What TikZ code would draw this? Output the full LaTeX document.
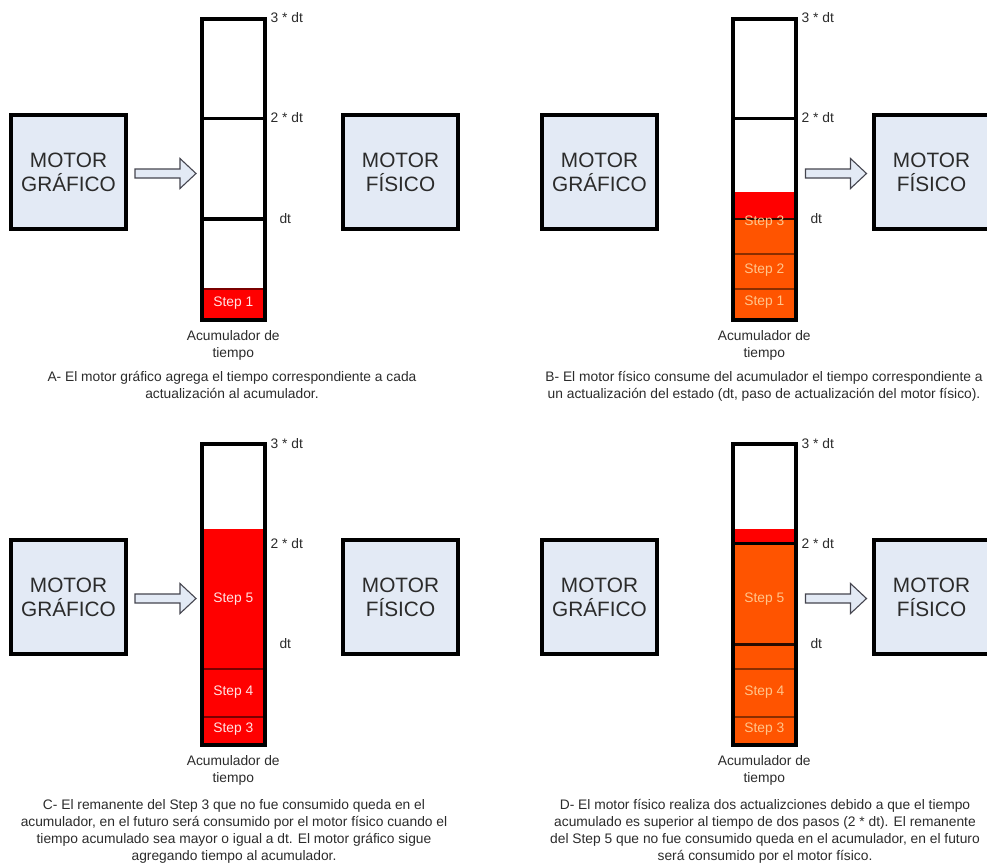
\documentclass[tikz,border=0pt]{standalone}
\usepackage{fontspec}
\setmainfont{Liberation Sans}
\usetikzlibrary{calc}
\definecolor{boxfill}{HTML}{E3EAF5}
\definecolor{txt}{HTML}{2B2B2B}
\definecolor{stepred}{HTML}{FF0000}
\definecolor{steporange}{HTML}{FF5400}
\definecolor{orangetext}{HTML}{FFC58C}
\definecolor{redtext}{HTML}{FFE4E4}
\definecolor{reddiv}{HTML}{7A0000}
\definecolor{orangediv}{HTML}{8A2E00}
\definecolor{darkline}{HTML}{2A0C00}
\definecolor{arrowline}{HTML}{45454F}
\newcommand{\mlines}[1]{\begin{tabular}[t]{@{}c@{}}#1\end{tabular}}
\tikzset{
  motorbox/.style={draw=black, line width=4pt, fill=boxfill, minimum width=115.5pt,
    minimum height=114.5pt, inner sep=0pt, align=center, text=txt,
    font=\fontsize{20.8}{24.3}\selectfont},
  colbox/.style={draw=black, line width=4pt, minimum width=63.5pt, minimum height=300.5pt, inner sep=0pt},
  ticklbl/.style={anchor=base west, inner sep=0pt, text=txt, font=\fontsize{13.8}{17}\selectfont},
  steplbl/.style={inner sep=0pt, font=\fontsize{13.8}{17}\selectfont},
  capt/.style={anchor=base, inner sep=0pt, text=txt, font=\fontsize{13.8}{17}\selectfont},
  blockarrow/.style={draw=arrowline, line width=1.1pt, fill=boxfill, line join=miter},
  gridline/.style={draw=black, line width=3.2pt},
  reddivider/.style={draw=reddiv, line width=1.4pt},
  orangedivider/.style={draw=orangediv, line width=1.4pt},
}
\newcommand{\blockarrowpath}[1]{%
  \draw[blockarrow] (#1) ++(0,-4.5) -- ++(45,0) -- ++(0,-10.5) -- ++(16,15) -- ++(-16,15)
    -- ++(0,-10.5) -- ++(-45,0) -- cycle;}
\begin{document}
\begin{tikzpicture}[x=1pt,y=-1pt]
\useasboundingbox (0,0) rectangle (987,865);
\clip (0,0) rectangle (987,865);

% ================= Panel A =================
\begin{scope}
  \draw[gridline] (201.5,118.5) -- (265,118.5);
  \draw[gridline] (201.5,219) -- (265,219);
  \fill[stepred] (201.5,289) rectangle (265,319.5);
  \draw[reddivider] (201.5,289) -- (265,289);
  \node[colbox] (colA) at (233.25,169.25) {};
  \node[steplbl, text=redtext] (s1A) at (233.25,302.7) {Step 1};
  \node[ticklbl] (t3A) at (270.5,22.7) {3 * dt};
  \node[ticklbl] (t2A) at (270.5,122.7) {2 * dt};
  \node[ticklbl] (t1A) at (279.3,223) {dt};
  \node[motorbox] (gA) at (68.5,172) {MOTOR\\GRÁFICO};
  \node[motorbox] (fA) at (400.5,172) {MOTOR\\FÍSICO};
  \coordinate (arA) at ($(gA.east)+(6.75,1.5)$);
  \blockarrowpath{arA}
  \node[capt] (accA) at (233.25,340) {\mlines{Acumulador de\\tiempo}};
\end{scope}
\node[capt] (capA) at (232,381.7) {\mlines{A- El motor gráfico agrega el tiempo correspondiente a cada\\actualización al acumulador.}};

% ================= Panel B =================
\begin{scope}[shift={(531,0)}]
  \fill[stepred] (201.5,192) rectangle (265,254);
  \fill[steporange] (201.5,219) rectangle (265,319.5);
  \draw[orangedivider] (201.5,254) -- (265,254);
  \draw[orangedivider] (201.5,289) -- (265,289);
  \draw[gridline] (201.5,118.5) -- (265,118.5);
  \draw[draw=darkline, line width=2.6pt] (201.5,219) -- (265,219);
  \node[colbox] (colB) at (233.25,169.25) {};
  \node[steplbl, text=orangetext] (s3B) at (233.25,221.7) {Step 3};
  \node[steplbl, text=orangetext] (s2B) at (233.25,270) {Step 2};
  \node[steplbl, text=orangetext] (s1B) at (233.25,301.7) {Step 1};
  \node[ticklbl] (t3B) at (270.5,22.7) {3 * dt};
  \node[ticklbl] (t2B) at (270.5,122.7) {2 * dt};
  \node[ticklbl] (t1B) at (279.3,223) {dt};
  \node[motorbox] (gB) at (68.5,172) {MOTOR\\GRÁFICO};
  \node[motorbox] (fB) at (400.5,172) {MOTOR\\FÍSICO};
  \coordinate (arB) at ($(colB.east |- fB.west)+(7.5,1.5)$);
  \blockarrowpath{arB}
  \node[capt] (accB) at (233.25,340) {\mlines{Acumulador de\\tiempo}};
\end{scope}
\node[capt] (capB) at (764,381.7) {\mlines{B- El motor físico consume del acumulador el tiempo correspondiente a\\un actualización del estado (dt, paso de actualización del motor físico).}};

% ================= Panel C =================
\begin{scope}[shift={(0,425)}]
  \fill[stepred] (201.5,104) rectangle (265,319.5);
  \draw[reddivider] (201.5,244) -- (265,244);
  \draw[reddivider] (201.5,292) -- (265,292);
  \node[colbox] (colC) at (233.25,169.25) {};
  \node[steplbl, text=redtext] (s5C) at (233.25,174) {Step 5};
  \node[steplbl, text=redtext] (s4C) at (233.25,267.3) {Step 4};
  \node[steplbl, text=redtext] (s3C) at (233.25,304) {Step 3};
  \node[ticklbl] (t3C) at (270.5,23.5) {3 * dt};
  \node[ticklbl] (t2C) at (270.5,123) {2 * dt};
  \node[ticklbl] (t1C) at (279.3,223.5) {dt};
  \node[motorbox] (gC) at (68.5,172) {MOTOR\\GRÁFICO};
  \node[motorbox] (fC) at (400.5,172) {MOTOR\\FÍSICO};
  \coordinate (arC) at ($(gC.east)+(6.75,1.5)$);
  \blockarrowpath{arC}
  \node[capt] (accC) at (233.25,340.7) {\mlines{Acumulador de\\tiempo}};
\end{scope}
\node[capt] (capC) at (234,809.3) {\mlines{C- El remanente del Step 3 que no fue consumido queda en el\\acumulador, en el futuro será consumido por el motor físico cuando el\\tiempo acumulado sea mayor o igual a dt. El motor gráfico sigue\\agregando tiempo al acumulador.}};

% ================= Panel D =================
\begin{scope}[shift={(531,425)}]
  \fill[stepred] (201.5,104) rectangle (265,119);
  \fill[steporange] (201.5,119) rectangle (265,319.5);
  \draw[orangedivider] (201.5,244) -- (265,244);
  \draw[orangedivider] (201.5,292) -- (265,292);
  \draw[gridline] (201.5,118.5) -- (265,118.5);
  \draw[draw=darkline, line width=2.6pt] (201.5,219.5) -- (265,219.5);
  \node[colbox] (colD) at (233.25,169.25) {};
  \node[steplbl, text=orangetext] (s5D) at (233.25,174) {Step 5};
  \node[steplbl, text=orangetext] (s4D) at (233.25,267.3) {Step 4};
  \node[steplbl, text=orangetext] (s3D) at (233.25,304) {Step 3};
  \node[ticklbl] (t3D) at (270.5,23.5) {3 * dt};
  \node[ticklbl] (t2D) at (270.5,123) {2 * dt};
  \node[ticklbl] (t1D) at (279.3,223.5) {dt};
  \node[motorbox] (gD) at (68.5,172) {MOTOR\\GRÁFICO};
  \node[motorbox] (fD) at (400.5,172) {MOTOR\\FÍSICO};
  \coordinate (arD) at ($(colD.east |- fD.west)+(7.5,1.5)$);
  \blockarrowpath{arD}
  \node[capt] (accD) at (233.25,340.7) {\mlines{Acumulador de\\tiempo}};
\end{scope}
\node[capt] (capD) at (765,809.3) {\mlines{D- El motor físico realiza dos actualizciones debido a que el tiempo\\acumulado es superior al tiempo de dos pasos (2 * dt). El remanente\\del Step 5 que no fue consumido queda en el acumulador, en el futuro\\será consumido por el motor físico.}};
\end{tikzpicture}
\end{document}
